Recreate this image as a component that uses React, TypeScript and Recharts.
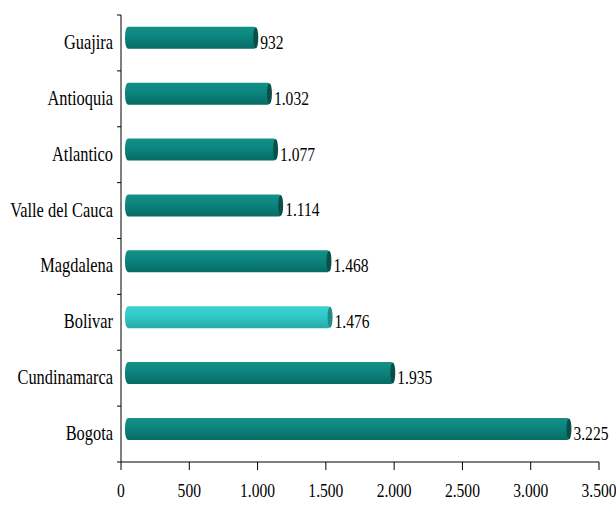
import { Bar, BarChart, LabelList, XAxis, YAxis } from "recharts";

const regions = ["Guajira", "Antioquia", "Atlantico", "Valle del Cauca", "Magdalena", "Bolivar", "Cundinamarca", "Bogota"];
const values = [932, 1032, 1077, 1114, 1468, 1476, 1935, 3225];
const highlight = "Bolivar";
const xTicks = [0, 500, 1000, 1500, 2000, 2500, 3000, 3500];

const data = regions.map((name, i) => ({ name, value: values[i] }));

const W = 616;
const H = 505;
const TOP = 15;
const BOTTOM = 43;
const BAND = (H - TOP - BOTTOM) / regions.length;
const FONT = "'Liberation Serif', 'Times New Roman', 'DejaVu Serif', serif";

const fmt = (v: number) => v.toLocaleString("de-DE");

// condensed serif text, like the original's squashed Times
const Txt = ({ x, y, anchor = "start", size = 20, children }: any) => (
  <text
    transform={`translate(${x},${y}) scale(0.82,1)`}
    textAnchor={anchor}
    style={{ fontFamily: FONT, fontSize: size }}
    fill="#000"
  >
    {children}
  </text>
);

const CatTick = (props: any) => {
  const { x, y, payload, index } = props;
  const top = y - BAND / 2;
  return (
    <g>
      <line x1={x + 4} x2={x + 8} y1={top} y2={top} stroke="#000" />
      {index === regions.length - 1 && (
        <line x1={x + 4} x2={x + 8} y1={y + BAND / 2} y2={y + BAND / 2} stroke="#000" />
      )}
      <Txt x={x} y={y + 6} anchor="end">
        {payload.value}
      </Txt>
    </g>
  );
};

const ValTick = (props: any) => {
  const { x, y, payload } = props;
  return (
    <Txt x={x} y={y + 25} anchor="middle" size={19}>
      {fmt(payload.value)}
    </Txt>
  );
};

const ValLabel = (props: any) => {
  const { x, y, width, height, value } = props;
  return (
    <Txt x={x + width + 12} y={y + height / 2 + 6} size={19}>
      {fmt(Number(value))}
    </Txt>
  );
};

const Cylinder = (props: any) => {
  const { x, y, width, height, name } = props;
  const fill = name === highlight ? "url(#hi)" : "url(#base)";
  const cap = name === highlight ? "#1f8c8a" : "#0a4f4a";
  const x0 = x + 4;
  const y0 = y - 5;
  const w = Math.max(width + 5, 0);
  return (
    <g>
      <rect x={x0} y={y0} width={w} height={height} rx={3} ry={height / 2.2} fill={fill} />
      <ellipse cx={x0 + w - 1.5} cy={y0 + height / 2} rx={2.5} ry={height / 2 - 0.5} fill={cap} />
    </g>
  );
};

export default function App() {
  return (
    <div style={{ position: "absolute", left: 0, top: 0, background: "#fff" }}>
      <BarChart
        width={W}
        height={H}
        data={data}
        layout="vertical"
        margin={{ top: TOP, right: 17, bottom: 0, left: 0 }}
        barCategoryGap="30%"
      >
        <defs>
          <linearGradient id="base" x1="0" y1="0" x2="0" y2="1">
            <stop offset="0%" stopColor="#15918a" />
            <stop offset="45%" stopColor="#0b857d" />
            <stop offset="100%" stopColor="#086a64" />
          </linearGradient>
          <linearGradient id="hi" x1="0" y1="0" x2="0" y2="1">
            <stop offset="0%" stopColor="#3ad3d0" />
            <stop offset="50%" stopColor="#30c8c6" />
            <stop offset="100%" stopColor="#27a9a8" />
          </linearGradient>
        </defs>
        <XAxis
          type="number"
          domain={[0, 3500]}
          ticks={xTicks}
          height={BOTTOM}
          axisLine={{ stroke: "#000" }}
          tickLine={{ stroke: "#000" }}
          tickSize={8}
          tick={<ValTick />}
          interval={0}
        />
        <YAxis
          type="category"
          dataKey="name"
          width={121}
          axisLine={{ stroke: "#000" }}
          tickLine={false}
          tick={<CatTick />}
          interval={0}
        />
        <Bar dataKey="value" shape={<Cylinder />} isAnimationActive={false}>
          <LabelList dataKey="value" content={<ValLabel />} />
        </Bar>
      </BarChart>
    </div>
  );
}
